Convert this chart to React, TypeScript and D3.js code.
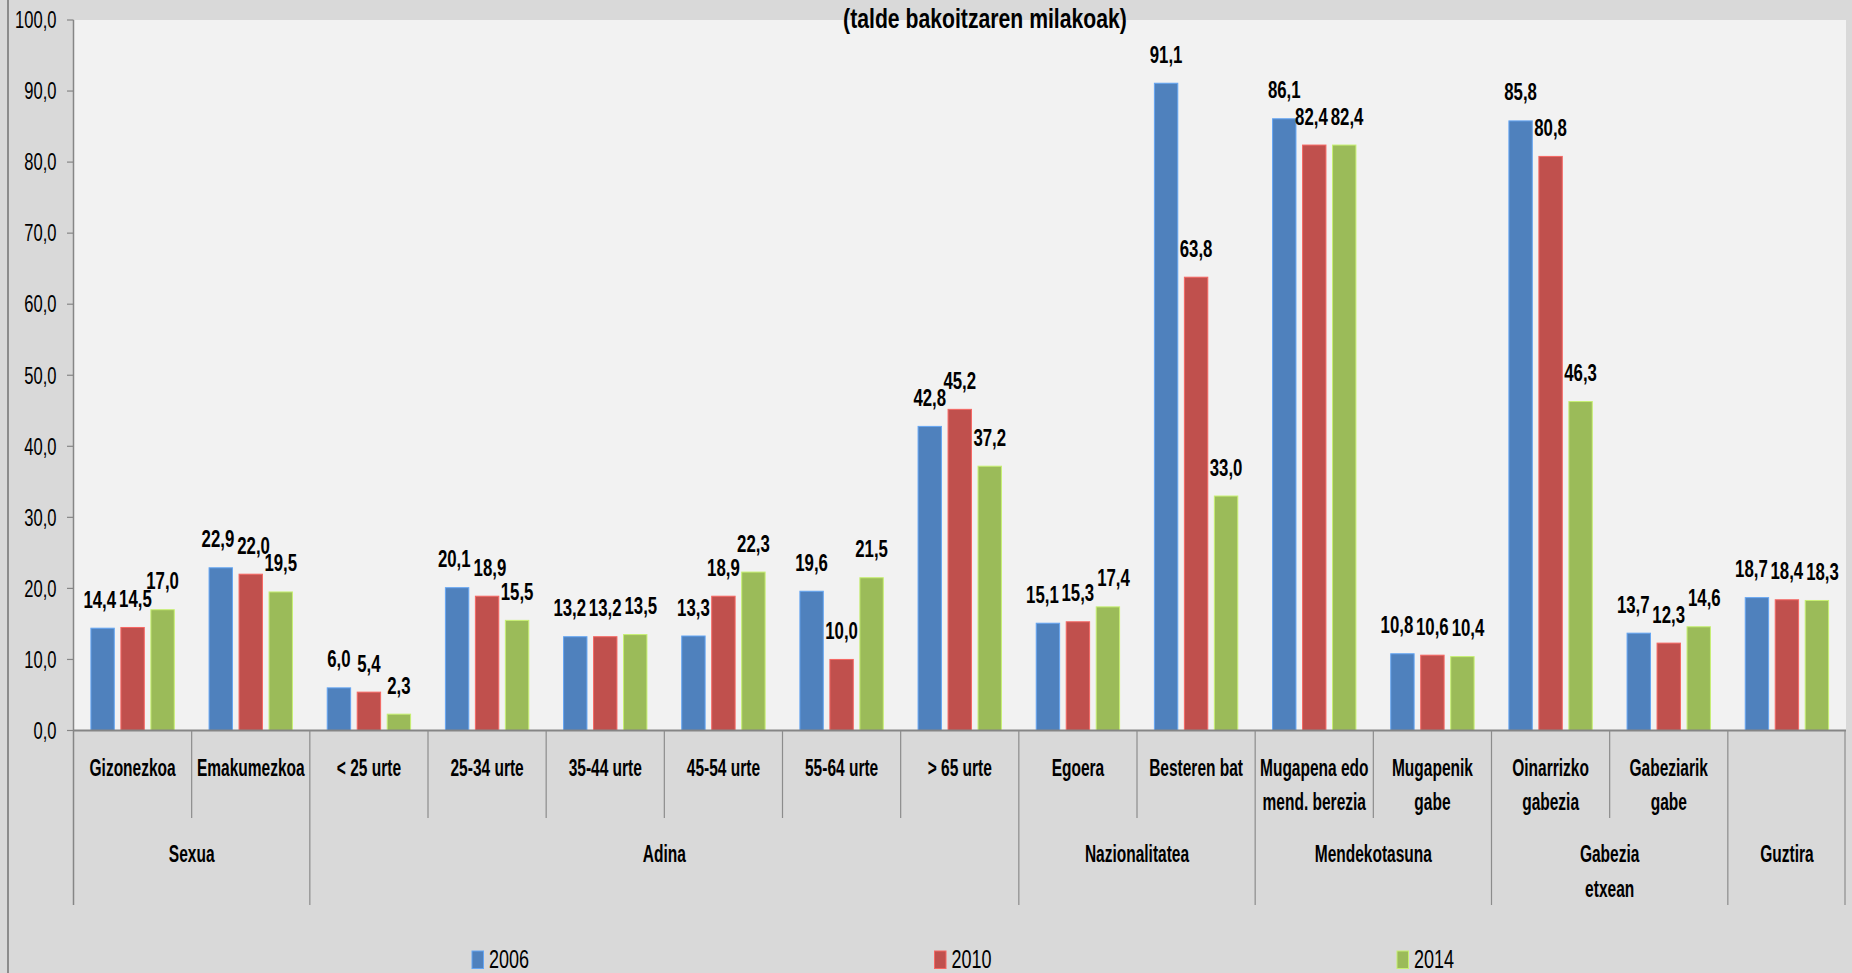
import React from "react";
import * as d3 from "d3";

// ---------- data ----------
const categoryLabels: string[][] = [
  ["Gizonezkoa"],
  ["Emakumezkoa"],
  ["< 25 urte"],
  ["25-34 urte"],
  ["35-44 urte"],
  ["45-54 urte"],
  ["55-64 urte"],
  ["> 65 urte"],
  ["Egoera"],
  ["Besteren bat"],
  ["Mugapena edo", "mend. berezia"],
  ["Mugapenik", "gabe"],
  ["Oinarrizko", "gabezia"],
  ["Gabeziarik", "gabe"],
  [],
];
const groupLabels: string[][] = [
  ["Sexua"],
  ["Adina"],
  ["Nazionalitatea"],
  ["Mendekotasuna"],
  ["Gabezia", "etxean"],
  ["Guztira"],
];
const groupSizes = [2, 6, 2, 2, 2, 1];

const years = ["2006", "2010", "2014"];
const values2006 = [14.4, 22.9, 6.0, 20.1, 13.2, 13.3, 19.6, 42.8, 15.1, 91.1, 86.1, 10.8, 85.8, 13.7, 18.7];
const values2010 = [14.5, 22.0, 5.4, 18.9, 13.2, 18.9, 10.0, 45.2, 15.3, 63.8, 82.4, 10.6, 80.8, 12.3, 18.4];
const values2014 = [17.0, 19.5, 2.3, 15.5, 13.5, 22.3, 21.5, 37.2, 17.4, 33.0, 82.4, 10.4, 46.3, 14.6, 18.3];
const seriesValues = [values2006, values2010, values2014];
const seriesColors = ["#4f81bd", "#c0504d", "#9bbb59"];
const yTicks = [0, 10, 20, 30, 40, 50, 60, 70, 80, 90, 100];
const title = "(talde bakoitzaren milakoak)";

// ---------- layout ----------
const W = 1852;
const H = 973;
const plotLeft = 73.5;
const plotRight = 1846;
const plotTop = 20;
const plotBottom = 730.5;
const FONT = "'Liberation Sans', Arial, sans-serif";

const fmt = (v: number) => d3.format(".1f")(v).replace(".", ",");

function T(props: {
  x: number;
  y: number;
  sx?: number;
  size: number;
  bold?: boolean;
  anchor?: "start" | "middle" | "end";
  dy?: string;
  children: React.ReactNode;
}) {
  const { x, y, sx = 0.71, size, bold, anchor = "middle", dy, children } = props;
  return (
    <text
      transform={`translate(${x},${y}) scale(${sx},1)`}
      fontSize={size}
      fontFamily={FONT}
      fontWeight={bold ? "bold" : "normal"}
      textAnchor={anchor}
      dy={dy}
      fill="#000"
    >
      {children}
    </text>
  );
}

export default function App() {
  const idx = categoryLabels.map((_, i) => i);
  const x0 = d3.scaleBand<number>().domain(idx).range([plotLeft, plotRight]).padding(0);
  const cw = x0.bandwidth();
  const margin = 17.4;
  const x1 = d3
    .scaleBand<number>()
    .domain([0, 1, 2])
    .range([margin, cw - margin])
    .paddingInner(0.22)
    .paddingOuter(0);
  const y = d3.scaleLinear().domain([0, 100]).range([plotBottom, plotTop]);

  // group boundaries
  const groupStarts: number[] = [];
  let acc = 0;
  groupSizes.forEach((s) => {
    groupStarts.push(acc);
    acc += s;
  });
  const groupBoundaryIdx = new Set<number>([...groupStarts, acc]);

  // data labels with simple overlap resolution inside each category
  const labelSize = 23;
  const labelSx = 0.73;
  const charW = (c: string) => (c === "," ? 0.278 : 0.556) * labelSize * labelSx;
  type Lab = { x: number; y: number; w: number; text: string; key: string };
  const labels: Lab[] = [];
  idx.forEach((ci) => {
    const row: Lab[] = seriesValues.map((vals, si) => {
      const v = vals[ci];
      const text = fmt(v);
      const w = text.split("").reduce((a, c) => a + charW(c), 0);
      return {
        x: (x0(ci) as number) + (x1(si) as number) + x1.bandwidth() / 2,
        y: y(v) - 20.5,
        w,
        text,
        key: `${ci}-${si}`,
      };
    });
    for (let pass = 0; pass < 3; pass++) {
      for (let i = 0; i < row.length - 1; i++) {
        const a = row[i];
        const b = row[i + 1];
        if (Math.abs(a.y - b.y) < 17) {
          const need = (a.w + b.w) / 2 + 3;
          const d = need - (b.x - a.x);
          if (d > 0) {
            a.x -= d / 2;
            b.x += d / 2;
          }
        }
      }
    }
    labels.push(...row);
  });

  const legendStart = 472;
  const legendStep = 462.5;

  return (
    <svg
      width={W}
      height={H}
      style={{ position: "absolute", left: 0, top: 0, display: "block" }}
    >
      <rect x={0} y={0} width={W} height={H} fill="#d9d9d9" />
      <line x1={8} x2={8} y1={0} y2={H} stroke="#8c8c8c" strokeWidth={2} />
      <rect
        x={plotLeft}
        y={plotTop}
        width={plotRight - plotLeft}
        height={plotBottom - plotTop}
        fill="#f2f2f2"
      />

      {/* bars */}
      {seriesValues.map((vals, si) =>
        vals.map((v, ci) => (
          <rect
            key={`b-${si}-${ci}`}
            x={(x0(ci) as number) + (x1(si) as number)}
            y={y(v)}
            width={x1.bandwidth()}
            height={plotBottom - y(v)}
            fill={seriesColors[si]}
            stroke={d3.color(seriesColors[si])!.brighter(0.7).formatHex()}
            strokeWidth={1}
          />
        ))
      )}

      {/* y axis */}
      <line x1={plotLeft} x2={plotLeft} y1={plotTop} y2={905} stroke="#868686" strokeWidth={1.5} />
      {yTicks.map((t) => (
        <g key={`yt-${t}`}>
          <line x1={plotLeft - 6.5} x2={plotLeft} y1={y(t)} y2={y(t)} stroke="#868686" strokeWidth={1.2} />
          <T x={56.5} y={y(t)} size={23} sx={0.72} anchor="end" dy="0.36em">
            {fmt(t)}
          </T>
        </g>
      ))}

      {/* x axis */}
      <line x1={plotLeft} x2={plotRight} y1={plotBottom} y2={plotBottom} stroke="#868686" strokeWidth={2} />
      {d3.range(1, categoryLabels.length + 1).map((b) => {
        const xx = b === categoryLabels.length ? plotRight - 1 : (x0(b) as number);
        const long = groupBoundaryIdx.has(b);
        return (
          <line
            key={`sep-${b}`}
            x1={xx}
            x2={xx}
            y1={plotBottom}
            y2={long ? 905 : 818}
            stroke="#8c8c8c"
            strokeWidth={1.2}
          />
        );
      })}
      {categoryLabels.map((lines, ci) =>
        lines.map((ln, li) => (
          <T
            key={`cl-${ci}-${li}`}
            x={(x0(ci) as number) + cw / 2}
            y={776 + li * 34}
            size={23.5}
            sx={0.66}
            bold
          >
            {ln}
          </T>
        ))
      )}
      {groupLabels.map((lines, gi) => {
        const start = x0(groupStarts[gi]) as number;
        const cx = start + (groupSizes[gi] * cw) / 2;
        return lines.map((ln, li) => (
          <T key={`gl-${gi}-${li}`} x={cx} y={862 + li * 35} size={23.5} sx={0.66} bold>
            {ln}
          </T>
        ));
      })}

      {/* data labels */}
      {labels.map((l) => (
        <T key={`dl-${l.key}`} x={l.x} y={l.y} size={labelSize} sx={labelSx} bold>
          {l.text}
        </T>
      ))}

      {/* title */}
      <T x={985} y={27.5} size={27} sx={0.785} bold>
        {title}
      </T>

      {/* legend */}
      {years.map((yr, i) => (
        <g key={`lg-${yr}`}>
          <rect
            x={legendStart + i * legendStep}
            y={951}
            width={11.5}
            height={17.5}
            fill={seriesColors[i]}
            stroke={d3.color(seriesColors[i])!.brighter(0.7).formatHex()}
            strokeWidth={1}
          />
          <T x={legendStart + i * legendStep + 17} y={968} size={26.5} sx={0.68} anchor="start">
            {yr}
          </T>
        </g>
      ))}
    </svg>
  );
}
